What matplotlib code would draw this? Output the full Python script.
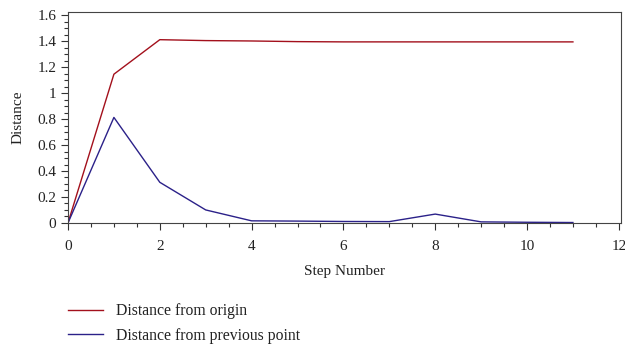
import numpy as np
import matplotlib
matplotlib.use('Agg')
import matplotlib.pyplot as plt
from matplotlib.ticker import MultipleLocator
from matplotlib.lines import Line2D

steps = [0, 1, 2, 3, 4, 5, 6, 7, 8, 9, 10, 11]
from_origin = [0, 1.146, 1.412, 1.405, 1.402, 1.397, 1.395, 1.395, 1.395, 1.395, 1.395, 1.395]
from_previous = [0, 0.813, 0.313, 0.10, 0.016, 0.014, 0.011, 0.010, 0.068, 0.008, 0.005, 0.003]
labels = ['Distance from origin', 'Distance from previous point']
colors = ['#a3101c', '#2b2189']

plt.rcParams['font.family'] = ['Liberation Serif', 'DejaVu Serif']
plt.rcParams['font.size'] = 11

fig = plt.figure(figsize=(6.25, 3.44), dpi=100)
ax = fig.add_axes([0.1088, 0.352, 0.885, 0.613])
ax.plot(steps, from_origin, color=colors[0], lw=1.0)
ax.plot(steps, from_previous, color=colors[1], lw=1.0)

ax.set_xlim(0, 12.05)
ax.set_ylim(0, 1.625)
ax.xaxis.set_major_locator(MultipleLocator(2))
ax.xaxis.set_minor_locator(MultipleLocator(0.5))
ax.yaxis.set_minor_locator(MultipleLocator(0.05))
ax.set_yticks(np.arange(0, 1.61, 0.2))
ax.set_yticklabels(['0', '0.2', '0.4', '0.6', '0.8', '1', '1.2', '1.4', '1.6'])
ax.tick_params(which='major', direction='out', length=5, width=0.8, colors='#333333')
ax.tick_params(which='minor', direction='out', length=3, width=0.8, colors='#333333')
ax.tick_params(axis='x', pad=7)
ax.tick_params(labelcolor='#222222', labelsize=11)
for s in ax.spines.values():
    s.set_color('#444444')
    s.set_linewidth(0.8)

ax.set_xlabel('Step Number', color='#222222', labelpad=9)
ax.set_ylabel('Distance', color='#222222', labelpad=9)

# legend underneath the axes, in figure coordinates
handles = [Line2D([], [], color=c, lw=1.0) for c in colors]
fig.legend(handles, labels, loc='upper left', bbox_to_anchor=(68 / 625, 1 - 303 / 344),
           borderpad=0, borderaxespad=0, frameon=False, handlelength=2.2,
           handletextpad=0.85, labelspacing=0.55, fontsize=11.3, labelcolor='#222222')

plt.savefig('out.png', dpi=100)
